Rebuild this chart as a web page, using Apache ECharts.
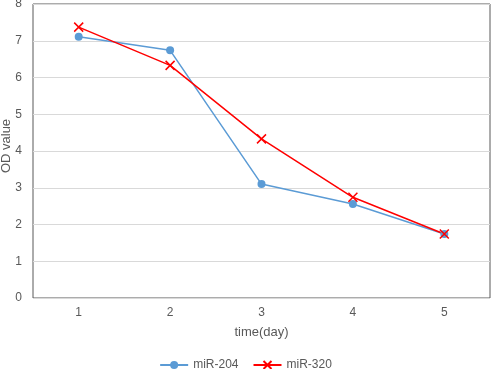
<!DOCTYPE html>
<html>
<head>
<meta charset="utf-8">
<script src="https://cdn.jsdelivr.net/npm/echarts@6/dist/echarts.min.js"></script>
<style>
  html, body { margin: 0; padding: 0; background: #fff; }
  #main { width: 491px; height: 369px; }
</style>
</head>
<body>
<div id="main"></div>
<script>
const days = ['1', '2', '3', '4', '5'];
const mir204 = [7.11, 6.74, 3.10, 2.56, 1.74];
const mir320 = [7.37, 6.33, 4.33, 2.74, 1.74];
const yTicks = [0, 1, 2, 3, 4, 5, 6, 7, 8];
const yTitle = 'OD value';

const chart = echarts.init(document.getElementById('main'), null, { renderer: 'canvas' });

const font = 'Liberation Sans, Arial, sans-serif';

chart.setOption({
  animation: false,
  textStyle: { fontFamily: font },
  grid: {
    left: 33, right: 1, top: 4, bottom: 71,
    containLabel: false,
    outerBoundsMode: 'none',
    show: true, borderColor: '#595959', borderWidth: 1
  },
  // y axis title placed by hand, the axis name kept drifting off the canvas
  graphic: [{
    type: 'text',
    x: 6,
    y: 146,
    rotation: Math.PI / 2,
    style: {
      text: yTitle,
      fill: '#595959',
      font: '13px ' + font,
      align: 'center',
      verticalAlign: 'middle'
    }
  }],
  legend: {
    top: 354,
    left: 'center',
    itemWidth: 28,
    itemHeight: 10,
    itemGap: 14,
    textStyle: { color: '#595959', fontSize: 12, fontFamily: font },
    data: ['miR-204', 'miR-320']
  },
  xAxis: {
    type: 'category',
    data: days,
    boundaryGap: true,
    name: 'time(day)',
    nameLocation: 'middle',
    nameGap: 28,
    nameTextStyle: { color: '#595959', fontSize: 13 },
    axisLine: { show: false },
    axisTick: { show: false },
    axisLabel: { color: '#595959', fontSize: 12, margin: 9 }
  },
  yAxis: {
    type: 'value',
    min: yTicks[0],
    max: yTicks[yTicks.length - 1],
    interval: 1,
    axisLine: { show: false },
    axisTick: { show: false },
    axisLabel: { color: '#595959', fontSize: 12, margin: 11 },
    splitLine: { lineStyle: { color: '#d9d9d9', width: 1 } }
  },
  series: [
    {
      name: 'miR-204',
      type: 'line',
      data: mir204,
      symbol: 'circle',
      symbolSize: 8,
      color: '#5b9bd5',
      lineStyle: { width: 1.5, color: '#5b9bd5' },
      itemStyle: { color: '#5b9bd5' }
    },
    {
      name: 'miR-320',
      type: 'line',
      data: mir320,
      symbol: 'path://M0,0L10,10M10,0L0,10',
      symbolSize: 9,
      color: '#ff0000',
      lineStyle: { width: 1.5, color: '#ff0000' },
      itemStyle: { color: '#ff0000', borderColor: '#ff0000', borderWidth: 1.5 }
    }
  ]
});
</script>
</body>
</html>
